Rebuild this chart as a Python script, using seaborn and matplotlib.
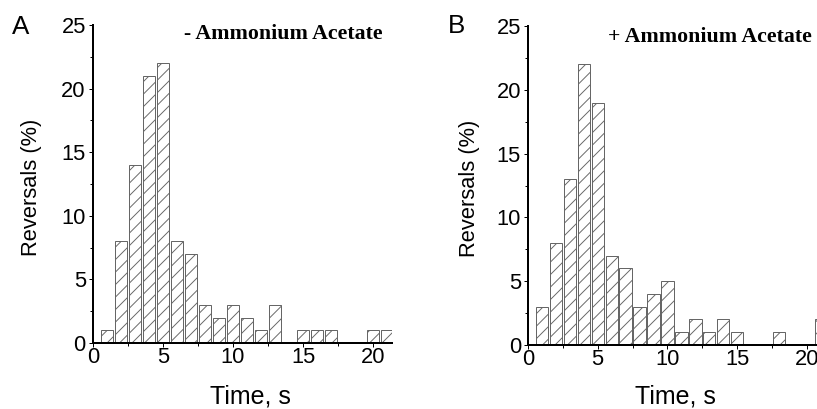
import matplotlib
matplotlib.use("Agg")
import matplotlib.pyplot as plt
from matplotlib.ticker import MultipleLocator
import seaborn as sns
import pandas as pd

# Reversal-time histograms (percent of reversals per 1 s bin)
time_s = list(range(1, 22))
reversals_minus = [1, 8, 14, 21, 22, 8, 7, 3, 2, 3, 2, 1, 3, 0, 1, 1, 1, 0, 0, 1, 1]
reversals_plus = [3, 8, 13, 22, 19, 7, 6, 3, 4, 5, 1, 2, 1, 2, 1, 0, 0, 1, 0, 0, 2]
panel_letters = ["A", "B"]
conditions = ["- Ammonium Acetate", "+ Ammonium Acetate"]
y_ticks = [0, 5, 10, 15, 20, 25]
x_ticks = [0, 5, 10, 15, 20]

DPI = 75
sns.set_theme(style="ticks")
plt.rcParams["font.family"] = ["Liberation Sans", "DejaVu Sans"]
plt.rcParams["hatch.linewidth"] = 0.9
plt.rcParams["hatch.color"] = "#333333"

fig = plt.figure(figsize=(817 / DPI, 409 / DPI), dpi=DPI)
fig.patch.set_facecolor("white")

px = 72 / DPI  # one pixel in points

# axes rectangles in figure fractions
rects = [
    [93 / 817, 1 - 343 / 409, (392 - 93) / 817, (343 - 25) / 409],
    [528 / 817, 1 - 345 / 409, (817 - 528) / 817, (345 - 26) / 409],
]
xlims = [(0, 21.35), (0, 20.72)]
label_pos = [((0.525, -0.13), (-0.169, 0.49)), ((0.509, -0.125), (-0.167, 0.49))]
cond_pos = [(0.967, 0.956), (0.983, 0.95)]
letter_pos = [(21 / 817, 1 - 34 / 409), (456 / 817, 1 - 33 / 409)]

series = [reversals_minus, reversals_plus]

for i, vals in enumerate(series):
    ax = fig.add_axes(rects[i])
    df = pd.DataFrame({"time": time_s, "pct": vals})
    sns.histplot(
        data=df, x="time", weights="pct", discrete=True, shrink=0.88,
        ax=ax, color="white", edgecolor="#555555", linewidth=1.0 * px,
        hatch="//", alpha=1.0, fill=True,
    )
    for p in ax.patches:
        p.set_facecolor("white")
        if hasattr(p, "set_hatchcolor"):
            p.set_hatchcolor("#333333")
        p.set_edgecolor("#666666")

    ax.set_xlim(*xlims[i])
    ax.set_ylim(0, 25)
    ax.set_xticks(x_ticks)
    ax.set_yticks(y_ticks)
    ax.xaxis.set_minor_locator(MultipleLocator(2.5))
    ax.yaxis.set_minor_locator(MultipleLocator(2.5))
    ax.tick_params(axis="both", which="both", direction="out", width=1 * px,
                   color="black", labelsize=21, labelcolor="black")
    ax.tick_params(axis="both", which="major", length=4 * px)
    ax.tick_params(axis="both", which="minor", length=3 * px)
    ax.tick_params(axis="x", which="major", pad=0)
    ax.tick_params(axis="y", which="major", pad=3)

    for side in ["top", "right"]:
        ax.spines[side].set_visible(False)
    for side in ["left", "bottom"]:
        ax.spines[side].set_linewidth(2 * px)
        ax.spines[side].set_color("black")
    ax.set_facecolor("white")
    ax.grid(False)

    ax.set_xlabel("Time, s", fontsize=24, color="black")
    ax.set_ylabel("Reversals (%)", fontsize=21, color="black")
    ax.xaxis.set_label_coords(*label_pos[i][0])
    ax.yaxis.set_label_coords(*label_pos[i][1])

    ax.text(cond_pos[i][0], cond_pos[i][1], conditions[i], transform=ax.transAxes,
            ha="right", va="baseline", fontsize=21, fontweight="bold",
            family=["Liberation Serif", "DejaVu Serif"], color="black")

    fig.text(letter_pos[i][0], letter_pos[i][1], panel_letters[i], ha="center",
             va="baseline", fontsize=25, color="black")

fig.savefig("out.png", dpi=DPI, facecolor="white")
